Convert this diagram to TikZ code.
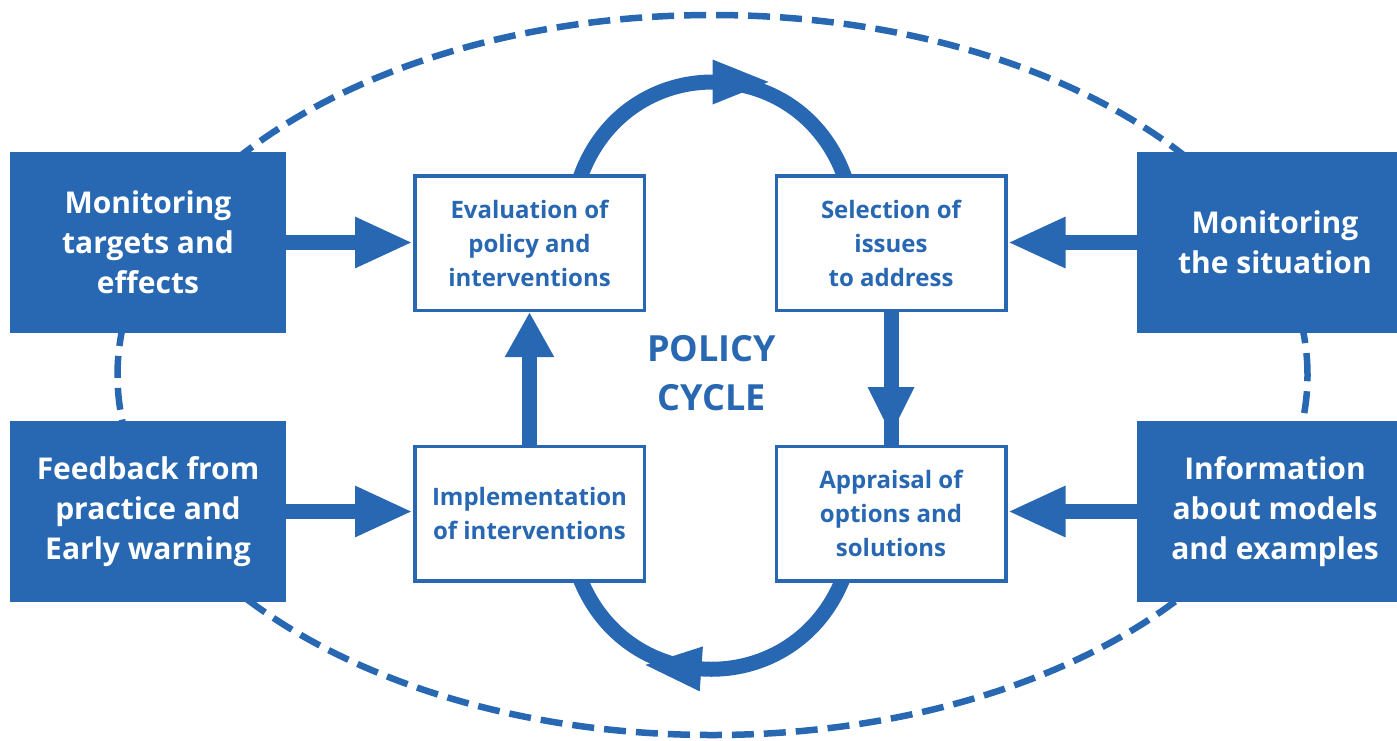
\documentclass[tikz,border=0pt]{standalone}
\usepackage{fontspec}
\setmainfont{Open Sans}
\usetikzlibrary{arrows.meta,decorations.markings}
\definecolor{pblue}{RGB}{40,104,178}
\pgfdeclarelayer{background}
\pgfsetlayers{background,main}
\begin{document}
\begin{tikzpicture}[x=1pt,y=-1pt,
  sidebox/.style={fill=pblue, text=white, inner sep=0pt, align=center,
    minimum width=276pt, minimum height=181pt,
    font=\fontsize{30}{40}\selectfont\bfseries},
  stagebox/.style={draw=pblue, line width=3.5pt, fill=white, text=pblue,
    inner sep=0pt, align=center, minimum width=229.5pt, minimum height=134.5pt,
    font=\fontsize{24}{34}\selectfont\bfseries},
  feed/.style={draw=pblue, line width=15pt, -{Triangle[length=58pt,width=47pt]}},
  cycleline/.style={draw=pblue, line width=15pt},
  headmark/.style n args={3}{postaction={decorate}, decoration={markings,
    mark=at position #1 with {\fill[pblue] (0pt,-#3) -- (#2,0pt) -- (0pt,#3) -- cycle;}}},
]
\useasboundingbox (0,0) rectangle (1397,740);
\clip (0,0) rectangle (1397,740);

% outer dashed ring
\begin{pgfonlayer}{background}
  \draw[pblue, line width=6.5pt, dash pattern=on 22pt off 10pt]
    (712.5,375) ellipse [x radius=595pt, y radius=360pt];
\end{pgfonlayer}

% information sources
\node[sidebox] (mte) at (148,242.5) {Monitoring\\targets and\\effects};
\node[sidebox] (fpe) at (148,511.5) {Feedback from\\practice and\\Early warning};
\node[sidebox] (mts) at (1275,242.5) {Monitoring\\the situation};
\node[sidebox] (ime) at (1275,511.5) {Information\\about models\\and examples};

% stages of the cycle
\node[stagebox] (eval) at (529.5,243) {Evaluation of\\policy and\\interventions};
\node[stagebox] (sel)  at (891,243)   {Selection of\\issues\\to address};
\node[stagebox] (impl) at (529.5,513.5) {Implementation\\of interventions};
\node[stagebox] (appr) at (891,513.5) {Appraisal of\\options and\\solutions};

\node[text=pblue, align=center, font=\fontsize{36}{49}\selectfont\bfseries]
  (cyc) at (711.5,373.5) {POLICY\\CYCLE};

% inputs into the cycle
\draw[feed] (mte.east) -- (mte.east -| eval.west);
\draw[feed] (fpe.east) -- (fpe.east -| impl.west);
\draw[feed] (mts.west) -- (mts.west -| sel.east);
\draw[feed] (ime.west) -- (ime.west -| appr.east);

% the cycle itself
\begin{pgfonlayer}{background}
  \draw[cycleline, headmark={0.5}{56pt}{22.5pt}]
    ([xshift=50.5pt,yshift=-4pt]eval.north) .. controls +(45,-128) and +(-45,-128) ..
    ([xshift=-46pt,yshift=-4pt]sel.north);
  \draw[cycleline, headmark={75pt}{47pt}{23.5pt}] (sel.south) -- (appr.north);
  \draw[cycleline, headmark={0.53}{56pt}{22.5pt}]
    ([xshift=-48pt,yshift=4pt]appr.south) .. controls +(-48,121) and +(48,121) ..
    ([xshift=50.5pt,yshift=4pt]impl.south);
  \draw[cycleline, -{Triangle[length=45pt,width=46pt]}] (impl.north) -- (eval.south);
\end{pgfonlayer}
\end{tikzpicture}
\end{document}
